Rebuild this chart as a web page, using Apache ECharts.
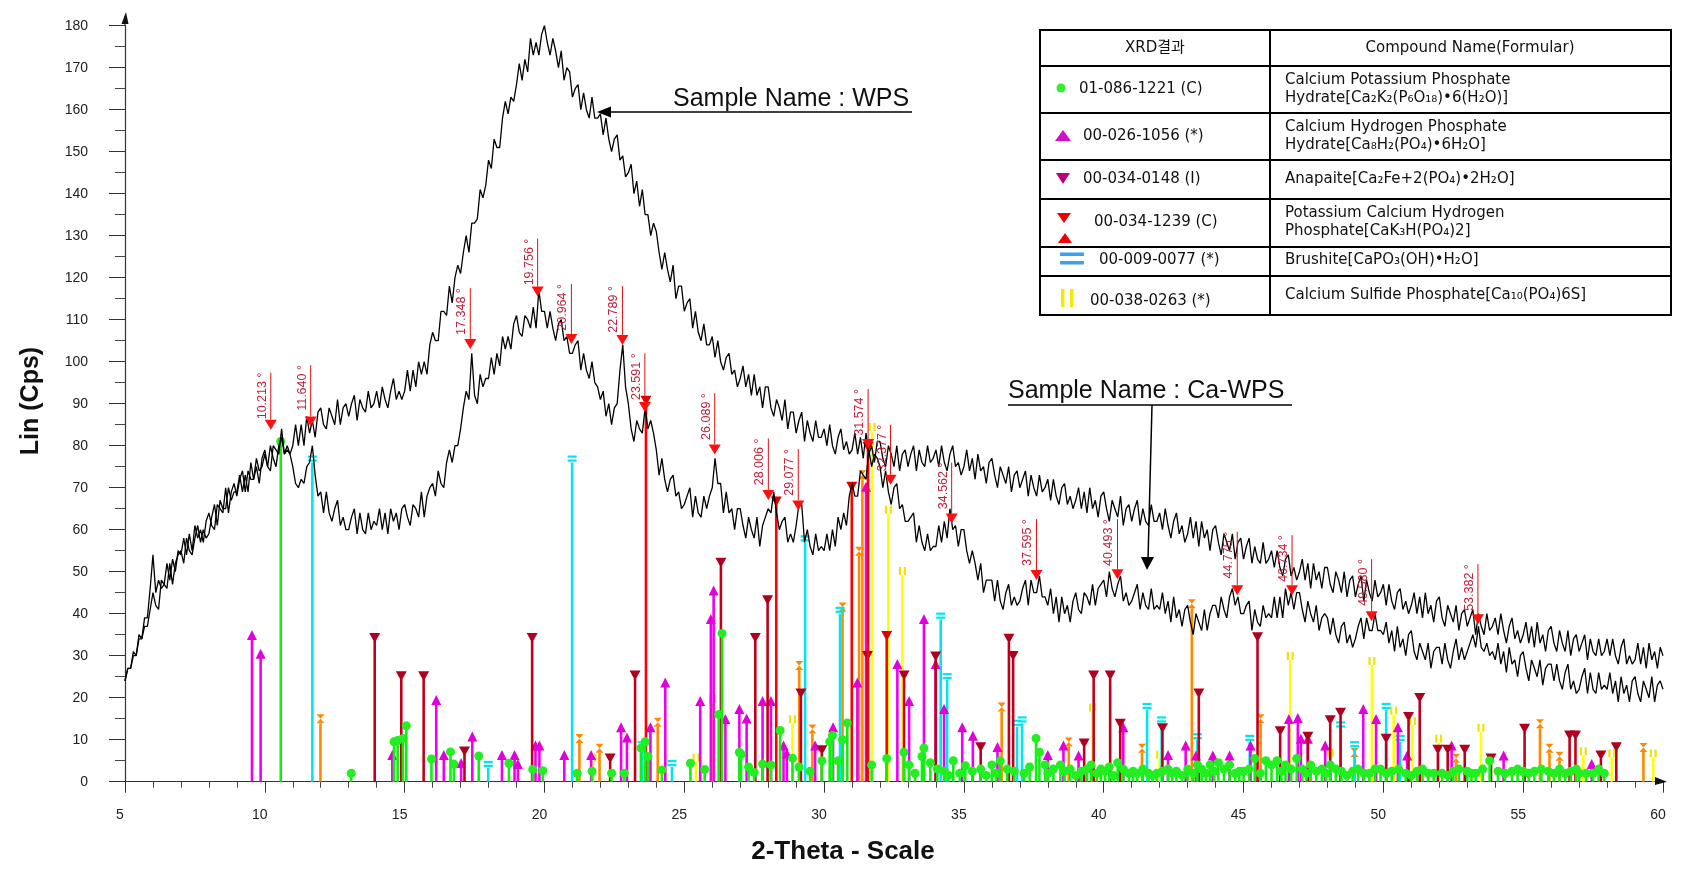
<!DOCTYPE html>
<html><head><meta charset="utf-8">
<script src="https://cdn.jsdelivr.net/npm/echarts@6/dist/echarts.min.js"></script>
<style>html,body{margin:0;padding:0;background:#fff}#c{width:1685px;height:875px}</style>
</head><body><div id="c"></div>
<script>
// ---------- DATA ----------
const X_START = 5, X_STEP = 0.1;   // 2-theta sampling of the scans
const WPS = [
24,27,27,31,30,35,34,39,39,46,
54,45,48,46,47,52,48,53,50,55,
54,58,54,59,55,61,58,60,57,62,
64,61,60,66,65,64,70,64,69,71,
68,72,74,69,74,72,72,77,74,75,
78,75,80,77,75,80,82,78,80,78,
80,85,80,85,80,87,83,86,82,88,
89,85,84,89,87,85,91,85,89,90,
87,90,92,86,91,89,88,93,89,90,
93,89,94,91,89,93,96,91,93,91,
93,98,93,98,94,100,97,100,97,104,
107,105,105,112,112,111,118,114,120,123,
121,126,130,126,133,133,134,141,139,142,
148,146,153,151,151,158,162,159,163,162,
166,171,167,172,169,177,173,176,173,178,
180,176,173,177,174,170,174,167,170,169,
163,165,166,160,164,160,158,163,158,158,
159,154,158,153,150,153,154,148,149,144,
145,147,140,143,137,141,135,135,130,133,
131,126,122,126,122,119,123,115,118,118,
112,114,115,108,112,107,105,109,104,104,
106,101,105,100,98,101,102,97,98,94,
96,99,94,97,92,97,92,94,89,94,
94,89,87,91,89,86,91,84,88,88,
83,86,88,81,86,83,81,86,82,82,
84,80,85,80,78,82,84,79,81,78,
79,83,78,82,77,83,78,80,76,81,
81,77,75,80,78,75,80,74,78,79,
75,78,80,74,79,76,75,80,76,77,
79,75,80,76,74,78,80,75,76,73,
75,79,74,77,72,78,74,75,71,76,
77,73,70,75,73,71,75,69,73,74,
70,72,74,68,73,70,68,73,69,70,
72,67,72,68,66,70,71,66,68,65,
67,70,65,69,64,70,65,67,63,68,
69,65,62,67,65,63,68,61,65,66,
62,65,67,61,65,62,61,66,62,62,
64,60,65,61,58,62,64,59,61,57,
59,63,58,62,56,62,58,60,55,60,
61,57,54,59,57,55,59,53,57,58,
53,56,58,52,56,53,52,57,52,53,
55,51,55,51,49,53,54,49,51,48,
50,53,48,52,46,52,48,50,46,51,
51,47,45,50,48,45,50,44,48,49,
44,47,49,43,48,45,43,48,44,45,
47,42,47,43,41,45,46,41,43,40,
42,45,40,44,39,45,40,42,38,43,
44,39,37,42,40,38,42,36,40,41,
37,39,41,35,40,37,35,40,36,37,
39,35,40,36,33,37,39,34,36,33,
35,38,33,37,32,38,33,35,31,36,
37,33,31,36,33,31,36,30,34,35,
31,33,35,29,34,31,30,34,30,31,
34,30,34,30,28,32,34,28,30,28,
29,33,28,32,27,33,29,31,27,32,
30];
const CA_WPS = [
24,27,27,30,30,34,34,37,37,41,
45,42,41,48,47,46,52,47,52,54,
55,52,58,55,54,58,61,57,60,58,
59,63,66,61,67,65,65,70,67,69,
69,73,69,73,69,76,72,75,71,77,
79,75,74,80,79,78,84,78,79,78,
75,71,70,72,71,75,76,80,73,68,
69,64,69,64,62,65,67,61,63,60,
60,63,65,59,64,60,59,64,60,62,
61,65,60,64,59,65,62,64,60,65,
66,63,61,66,65,63,69,63,68,70,
71,68,74,71,70,76,79,76,80,80,
84,89,93,91,102,92,90,97,94,96,
96,101,97,102,99,106,103,106,103,109,
111,107,106,111,110,108,113,108,117,112,
112,108,112,108,105,109,110,105,106,102,
102,104,105,98,102,98,96,100,95,94,
91,93,87,90,85,89,90,98,104,94,
90,84,81,86,84,83,89,84,86,83,
79,73,77,72,69,72,73,68,69,65,
66,68,70,63,68,64,63,68,65,68,
70,77,71,71,64,69,64,65,60,65,
65,61,58,63,60,58,63,56,61,63,
65,64,69,64,60,62,63,57,59,57,
61,66,66,57,60,56,54,59,55,56,
55,59,55,60,56,63,60,64,61,68,
71,68,68,74,73,72,79,75,78,77,
75,70,74,69,66,70,71,65,66,62,
62,63,64,57,61,57,55,59,55,56,
56,61,57,62,58,65,60,61,56,60,
60,55,52,55,52,48,52,45,48,48,
48,43,48,43,41,45,47,42,44,42,
43,46,48,42,48,45,45,49,44,44,
42,46,40,44,38,44,40,42,38,43,
45,41,40,45,44,42,47,42,46,47,
48,44,50,46,44,47,49,43,45,42,
43,45,47,41,45,42,41,46,41,42,
41,45,40,43,38,44,39,41,37,41,
42,38,35,40,38,36,41,36,40,42,
42,39,44,41,39,44,46,42,44,40,
40,42,43,36,41,38,37,42,39,40,
39,44,39,44,39,46,42,45,41,45,
45,41,38,43,40,38,42,36,39,40,
39,35,39,35,33,37,38,33,35,32,
34,37,39,34,39,36,36,40,36,36,
35,38,33,36,31,37,32,34,30,35,
36,31,29,33,31,29,33,27,31,32,
32,28,33,29,27,31,34,29,32,29,
31,33,35,32,37,32,31,33,30,31,
29,33,28,31,26,32,28,29,25,30,
31,27,24,29,27,25,29,23,27,28,
28,24,28,24,22,26,28,22,24,21,
22,25,27,21,26,22,21,26,22,23,
22,26,21,24,19,25,21,23,19,24,
25,21,19,24,22,20,25,19,23,24,
22];

// reference patterns: [2theta, intensity]
const PH_GREEN = [[10.57,81],[13.09,2],[14.62,9.5],[14.75,9.8],[14.94,10.3],[15.06,13.3],[15.96,5.4],[16.64,7.1],[16.76,4.2],[17.65,6.1],[18.73,4.4],[19.58,2.9],[19.94,2.6],[21.17,2],[21.7,2.5],[22.4,2],[22.85,2],[23.45,8],[23.6,9.5],[23.7,6],[24.2,2.8],[25.22,4.4],[25.73,2.9],[26.23,16],[26.35,35.3],[26.97,7],[27.03,6.5],[27.3,3.5],[27.5,2.2],[27.8,4.2],[28.1,4],[28.43,12.2],[28.87,5.6],[29.1,3.5],[29.5,2.5],[29.92,5],[30.2,9.5],[30.3,11],[30.5,5],[30.66,10],[30.83,14],[31.7,4],[32.24,5.5],[32.85,7],[33.04,4],[33.25,2],[33.5,6],[33.57,8],[33.8,4.5],[34.05,3],[34.3,2.5],[34.45,1.5],[34.62,5],[34.85,2],[35.05,3.8],[35.3,2.5],[35.6,3],[35.8,1.5],[36.0,4],[36.15,2],[36.3,5],[36.55,3],[36.8,2.5],[37.15,2],[37.35,3.5],[37.58,10.3],[37.7,7],[37.9,4],[38.0,2],[38.2,3],[38.45,4],[38.6,2.5],[38.8,3],[39.0,1.5],[39.2,2.5],[39.4,3],[39.55,4],[39.75,2],[39.9,3],[40.05,2.5],[40.2,3.5],[40.35,1.5],[40.5,4.5],[40.7,3],[40.9,2],[41.05,2.5],[41.2,2],[41.4,3],[41.6,2],[41.75,1.5],[41.9,2],[42.1,2.5],[42.3,3],[42.45,2],[42.6,2.5],[42.8,1.5],[43.0,3],[43.2,2],[43.35,4],[43.5,3],[43.65,2],[43.8,4],[43.95,2.5],[44.1,4.5],[44.3,3],[44.5,4],[44.7,2],[44.85,2.5],[45.0,2.5],[45.2,3],[45.4,5.5],[45.6,2],[45.8,5],[46.0,4],[46.2,5],[46.35,2.5],[46.5,4],[46.7,3],[46.9,5.5],[47.1,3],[47.25,2],[47.4,4],[47.6,2.5],[47.8,3],[47.95,2],[48.1,4],[48.3,3],[48.5,2.5],[48.7,1.5],[48.9,2.5],[49.1,3],[49.3,2],[49.5,2],[49.7,3],[49.9,3],[50.1,2],[50.3,2.5],[50.55,3],[50.8,2],[51.0,1.5],[51.2,2.5],[51.4,3],[51.6,2],[51.8,2],[52.1,2],[52.3,1.5],[52.5,2.5],[52.7,3],[53.0,2.5],[53.15,2],[53.3,2],[53.55,3],[53.8,5],[54.1,2.5],[54.35,2],[54.6,2.5],[54.8,3],[55.0,2.5],[55.2,2],[55.4,2.5],[55.65,3],[55.9,2.5],[56.1,2],[56.3,3],[56.5,2],[56.7,2.5],[56.9,3],[57.0,2],[57.25,2],[57.5,2],[57.7,3],[57.9,2]];
const PH_MAGENTA = [[9.54,34.7],[9.85,30.2],[14.56,6.1],[16.13,19.2],[16.4,6.1],[17.02,4.2],[17.42,10.5],[18.48,6.1],[18.93,6.1],[19.05,4],[19.68,8.4],[19.82,8.4],[20.71,6.1],[21.67,6.1],[22.74,12.7],[22.95,10.3],[23.79,12.7],[24.32,23.4],[25.57,19],[25.95,38.5],[26.05,45.3],[26.47,14.7],[26.97,17.1],[27.23,14.8],[27.8,19],[28.1,19],[28.55,8.4],[28.67,6.5],[29.68,8.4],[30.32,12.7],[31.19,23.4],[31.5,70],[32.62,27.8],[33.04,19],[33.57,38.5],[33.99,27.8],[34.29,17.1],[34.94,12.7],[35.32,10.7],[36.2,8],[38.0,6.1],[38.56,8.4],[39.1,6],[40.7,12.7],[42.3,6.1],[42.93,8.4],[43.3,6],[43.9,6],[44.5,6],[45.25,8.4],[46.62,14.7],[46.94,14.9],[47.05,10],[47.3,10],[47.92,8.4],[49.28,17.1],[49.74,14.7],[50.52,12.7],[50.85,6],[52.44,8.4],[54.3,6],[57.45,4]];
const PH_DARKRED = [[13.93,33.5],[14.88,24.4],[15.68,24.4],[17.14,6.5],[19.56,33.5],[22.35,4.8],[23.24,24.6],[26.31,51.4],[27.54,33.5],[27.98,42.5],[29.17,20.3],[29.92,6.8],[31.55,29.2],[32.86,24.6],[33.99,29.1],[35.6,7.5],[36.61,33.3],[36.76,29.2],[39.3,8.4],[39.64,24.6],[40.23,24.6],[40.59,13.1],[42.1,12],[43.4,20.3],[45.5,33.7],[46.31,11.3],[47.3,10],[48.1,13.9],[48.47,15.7],[50.1,9.5],[50.9,14.7],[51.3,19.2],[51.95,6.9],[52.3,6.9],[52.91,6.9],[53.85,4.8],[55.05,11.9],[56.66,10.3],[56.87,10.3],[57.78,5.5],[58.33,7.5]];
const PH_RED = [[23.63,90],[28.29,66],[30.99,69.5],[31.57,79],[32.24,34]];
const PH_ORANGE = [[11.99,13.9],[21.25,9.2],[21.97,6.9],[24.05,13.1],[29.11,26.6],[29.58,11.5],[30.66,40.5],[31.25,53.8],[31.37,72],[36.35,16.7],[38.75,8.4],[41.37,6.9],[43.15,41.3],[45.61,13.9],[48.97,5.9],[52.6,4.5],[55.6,12.7],[55.94,6.9],[56.3,5],[59.3,7.1]];
const PH_CYAN = [[11.7,76],[17.99,3.3],[20.99,76],[23.49,8],[24.56,3.5],[29.32,57],[30.57,40],[34.17,38.6],[34.4,24.2],[36.9,13.1],[37.08,13.9],[41.55,17.1],[42.07,13.9],[43.35,9.9],[45.22,9.5],[48.47,12.7],[48.97,8],[50.1,17.1],[50.6,9.5]];
const PH_YELLOW = [[21.73,4.8],[25.42,4.8],[26.01,18.7],[28.87,13.9],[31.72,83.5],[32.3,63.8],[32.8,49.2],[39.6,16.7],[42.0,5.5],[46.67,29],[48.1,6],[49.59,27.8],[50.37,16],[51.04,13.5],[51.98,9.3],[53.49,11.9],[57.15,6.3],[58.17,5.8],[59.65,5.8]];

// marked peaks: [2theta, arrow tip, label top]
const PEAKS = [[10.213,83.8,97.4],[11.640,84.6,99.2],[17.348,103,117.5],[19.756,115.5,129.3],[20.964,104.2,118.5],[22.789,104,118],[23.591,88,102],[26.089,77.9,92.5],[28.006,67.1,81.7],[29.077,64.6,79.2],[31.574,79.2,93.5],[32.377,70.7,85],[34.562,61.5,76],[37.595,48,62.5],[40.493,48.2,62.5],[44.775,44.4,59.5],[46.734,44.4,58.7],[49.580,38.2,53],[53.382,37.5,51.8]];
const PEAK_LABELS = ['10.213 °','11.640 °','17.348 °','19.756 °','20.964 °','22.789 °','23.591 °','26.089 °','28.006 °','29.077 °','31.574 °','32.377 °','34.562 °','37.595 °','40.493 °','44.775 °','46.734 °','49.580 °','53.382 °'];

// legend table
const TABLE_HEAD = ['XRD결과','Compound Name(Formular)'];
const TABLE_CODES = ['01-086-1221 (C)','00-026-1056 (*)','00-034-0148 (I)','00-034-1239 (C)','00-009-0077 (*)','00-038-0263 (*)'];
const TABLE_NAMES = [['Calcium Potassium Phosphate','Hydrate[Ca₂K₂(P₆O₁₈)•6(H₂O)]'],['Calcium Hydrogen Phosphate','Hydrate[Ca₈H₂(PO₄)•6H₂O]'],['Anapaite[Ca₂Fe+2(PO₄)•2H₂O]'],['Potassium Calcium Hydrogen','Phosphate[CaK₃H(PO₄)2]'],['Brushite[CaPO₃(OH)•H₂O]'],['Calcium Sulfide Phosphate[Ca₁₀(PO₄)6S]']];

// ---------- CHART ----------
const chart = echarts.init(document.getElementById('c'), null, {renderer:'canvas'});
const toXY = arr => arr.map((v,i)=>[+(X_START + i*X_STEP).toFixed(2), v]);

function markerShapes(kind, cx, cy, color){
  const s = {fill:color};
  switch(kind){
    case 'circle': return [{type:'circle', shape:{cx, cy:cy, r:4.5}, style:s}];
    case 'up': return [{type:'polygon', shape:{points:[[cx-5,cy+4],[cx+5,cy+4],[cx,cy-6]]}, style:s}];
    case 'down': return [{type:'polygon', shape:{points:[[cx-5.5,cy-8],[cx+5.5,cy-8],[cx,cy+2]]}, style:s}];
    case 'eq': return [{type:'rect', shape:{x:cx-4.5,y:cy-7,width:9,height:2.2}, style:s},{type:'rect', shape:{x:cx-4.5,y:cy-3,width:9,height:2.2}, style:s}];
    case 'bars': return [{type:'rect', shape:{x:cx-3.5,y:cy-8,width:2.2,height:8}, style:s},{type:'rect', shape:{x:cx+1.3,y:cy-8,width:2.2,height:8}, style:s}];
    case 'hour': return [{type:'polygon', shape:{points:[[cx-4,cy-9],[cx+4,cy-9],[cx,cy-4.5],[cx+4,cy],[cx-4,cy],[cx,cy-4.5]]}, style:s}];
  }
  return [];
}
function stickSeries(name, data, color, kind, mcolor){
  return {
    type:'custom', name, data, z:1, silent:true, animation:false, clip:false,
    encode:{x:0, y:1},
    renderItem(params, api){
      const x = api.value(0), v = api.value(1);
      const b = api.coord([x,0]), t = api.coord([x,v]);
      const ch = [{type:'line', shape:{x1:b[0],y1:b[1],x2:t[0],y2:t[1]}, style:{stroke:color, lineWidth:2.6}}];
      return {type:'group', children: ch.concat(markerShapes(kind, t[0], t[1], mcolor||color))};
    }
  };
}

const series = [
  stickSeries('00-038-0263', PH_YELLOW, '#ffff00', 'bars', '#f2e200'),
  stickSeries('orange', PH_ORANGE, '#ff8a00', 'hour'),
  stickSeries('00-009-0077', PH_CYAN, '#00e6f0', 'eq'),
  stickSeries('00-026-1056', PH_MAGENTA, '#f000f0', 'up', '#e000d8'),
  stickSeries('00-034-0148', PH_DARKRED, '#c0001a', 'down', '#b00020'),
  stickSeries('00-034-1239', PH_RED, '#ff0000', 'down', '#e00000'),
  stickSeries('01-086-1221', PH_GREEN, '#10f010', 'circle', '#22ee22'),
  {type:'line', name:'WPS', data: toXY(WPS), showSymbol:false, symbol:'none', z:3, silent:true, animation:false,
   lineStyle:{color:'#000', width:1.3}},
  {type:'line', name:'Ca-WPS', data: toXY(CA_WPS), showSymbol:false, symbol:'none', z:3, silent:true, animation:false,
   lineStyle:{color:'#000', width:1.3}},
  {type:'custom', name:'peaks', data: PEAKS, z:4, silent:true, animation:false, clip:false,
   encode:{x:0, y:1},
   renderItem(params, api){
     const x = api.value(0), tip = api.value(1), top = api.value(2);
     const pt = api.coord([x,tip]), pp = api.coord([x,top]);
     const h = 10, w = 6;
     return {type:'group', children:[
       {type:'line', shape:{x1:pp[0],y1:pp[1],x2:pt[0],y2:pt[1]-h}, style:{stroke:'#e01010', lineWidth:1}},
       {type:'polygon', shape:{points:[[pt[0]-w,pt[1]-h],[pt[0]+w,pt[1]-h],[pt[0],pt[1]]]}, style:{fill:'#ff1010'}},
       {type:'text', x:pp[0]-2, y:pp[1], rotation:Math.PI/2,
        style:{text:PEAK_LABELS[params.dataIndex], x:0, y:0, align:'right', verticalAlign:'bottom',
               textAlign:'right', textVerticalAlign:'bottom', fill:'#c0203a', font:'12.5px "Liberation Sans"'}}
     ]};
   }}
];

// graphic: titles, annotations, legend table
const G = [];
function txt(x,y,text,font,align,valign,extra){
  const e = {type:'text', x, y, silent:true, z:100,
    style:{text, font, fill:'#111', align, verticalAlign:valign, textAlign:align, textVerticalAlign:valign}};
  return Object.assign(e, extra||{});
}
G.push(txt(31,401,'Lin (Cps)','bold 25px "Liberation Sans"','center','middle',{rotation:Math.PI/2}));
G.push(txt(843,852,'2-Theta - Scale','bold 26px "Liberation Sans"','center','middle'));
// axis arrow heads
G.push({type:'line', shape:{x1:125,y1:26,x2:125,y2:16}, style:{stroke:'#333',lineWidth:1.2}, z:100});
G.push({type:'polygon', shape:{points:[[121.5,24],[126,12],[128.5,24]]}, style:{fill:'#111'}, z:100});
G.push({type:'polygon', shape:{points:[[1655,777],[1667,781.7],[1655,785]]}, style:{fill:'#111'}, z:100});
// sample annotations
G.push(txt(673,99,'Sample Name : WPS','25px "Liberation Sans"','left','middle'));
G.push({type:'line', shape:{x1:673,y1:112,x2:912,y2:112}, style:{stroke:'#000',lineWidth:1.5}, z:100});
G.push({type:'line', shape:{x1:610,y1:112,x2:673,y2:112}, style:{stroke:'#000',lineWidth:1.5}, z:100});
G.push({type:'polygon', shape:{points:[[597,112],[611,106.5],[611,117.5]]}, style:{fill:'#000'}, z:100});
G.push(txt(1008,391,'Sample Name : Ca-WPS','25px "Liberation Sans"','left','middle'));
G.push({type:'line', shape:{x1:1008,y1:405,x2:1292,y2:405}, style:{stroke:'#000',lineWidth:1.5}, z:100});
G.push({type:'line', shape:{x1:1152,y1:405,x2:1148,y2:560}, style:{stroke:'#000',lineWidth:1.5}, z:100});
G.push({type:'polygon', shape:{points:[[1141,557],[1154,557],[1147,570]]}, style:{fill:'#000'}, z:100});
// table
const TX = [1040,1270,1671], TY = [30,66,113,160,199,247,276,315];
G.push({type:'rect', shape:{x:TX[0],y:TY[0],width:TX[2]-TX[0],height:TY[7]-TY[0]}, style:{fill:'#fff',stroke:'#000',lineWidth:2}, z:90});
for (let i=1;i<TY.length-1;i++) G.push({type:'line', shape:{x1:TX[0],y1:TY[i],x2:TX[2],y2:TY[i]}, style:{stroke:'#000',lineWidth:2}, z:91});
G.push({type:'line', shape:{x1:TX[1],y1:TY[0],x2:TX[1],y2:TY[7]}, style:{stroke:'#000',lineWidth:2}, z:91});
const TF = '15px "DejaVu Sans", "Noto Sans CJK KR"';
G.push(txt(1155,48,TABLE_HEAD[0],TF,'center','middle'));
G.push(txt(1470,48,TABLE_HEAD[1],TF,'center','middle'));
const codeX = [1079,1083,1083,1094,1099,1090], codeY = [89,136,179,222,260,301];
const nameY = [[80,98],[127,145],[179],[213,231],[260],[295]];
for (let r=0;r<6;r++){
  G.push(txt(codeX[r],codeY[r],TABLE_CODES[r],TF,'left','middle'));
  TABLE_NAMES[r].forEach((s,k)=>G.push(txt(1285,nameY[r][k],s,TF,'left','middle')));
}
// legend symbols
G.push({type:'circle', shape:{cx:1061,cy:88,r:4.5}, style:{fill:'#33ee33'}, z:100});
G.push({type:'polygon', shape:{points:[[1055,141],[1071,141],[1063,130]]}, style:{fill:'#d010c8'}, z:100});
G.push({type:'polygon', shape:{points:[[1056,173],[1070,173],[1063,184]]}, style:{fill:'#b8007c'}, z:100});
G.push({type:'polygon', shape:{points:[[1057,213],[1071,213],[1064,223]]}, style:{fill:'#ee0000'}, z:100});
G.push({type:'polygon', shape:{points:[[1058,243],[1072,243],[1065,233]]}, style:{fill:'#ee0000'}, z:100});
G.push({type:'rect', shape:{x:1060,y:252.5,width:24,height:3.5}, style:{fill:'#3aa0f0'}, z:100});
G.push({type:'rect', shape:{x:1060,y:261,width:24,height:3.5}, style:{fill:'#3aa0f0'}, z:100});
G.push({type:'rect', shape:{x:1061,y:289,width:3.5,height:18}, style:{fill:'#f6e800'}, z:100});
G.push({type:'rect', shape:{x:1070,y:289,width:3.5,height:18}, style:{fill:'#f6e800'}, z:100});

chart.setOption({
  animation:false,
  backgroundColor:'#fff',
  grid:{left:125, right:22, top:25.7, bottom:93.3, containLabel:false},
  xAxis:{type:'value', min:5, max:60, interval:5,
    axisLine:{show:true, lineStyle:{color:'#333', width:1.2}},
    axisTick:{show:true, length:11, lineStyle:{color:'#333'}},
    minorTick:{show:true, splitNumber:5, length:6, lineStyle:{color:'#444'}},
    axisLabel:{color:'#222', fontSize:14, fontFamily:'Liberation Sans', margin:26, padding:[0,10,0,0]},
    splitLine:{show:false}, minorSplitLine:{show:false}},
  yAxis:{type:'value', min:0, max:180, interval:10,
    axisLine:{show:true, lineStyle:{color:'#333', width:1.2}},
    axisTick:{show:true, length:16, lineStyle:{color:'#333'}},
    minorTick:{show:true, splitNumber:2, length:10, lineStyle:{color:'#444'}},
    axisLabel:{color:'#222', fontSize:14, fontFamily:'Liberation Sans', margin:37},
    splitLine:{show:false}, minorSplitLine:{show:false}},
  series,
  graphic:{elements:G}
});
</script>
</body></html>
